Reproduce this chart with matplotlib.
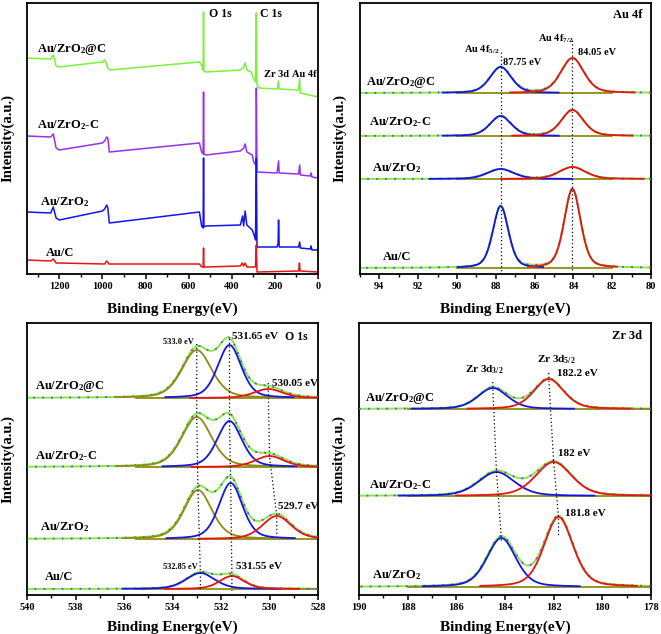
import matplotlib
matplotlib.use('Agg')
import matplotlib.pyplot as plt
import numpy as np

plt.rcParams['font.family'] = 'Liberation Serif'
plt.rcParams['font.weight'] = 'bold'
plt.rcParams['mathtext.fontset'] = 'custom'
plt.rcParams['mathtext.rm'] = 'Liberation Serif:bold'
plt.rcParams['mathtext.it'] = 'Liberation Serif:bold'
plt.rcParams['mathtext.bf'] = 'Liberation Serif:bold'

samples = [r'Au/ZrO$_2$@C', r'Au/ZrO$_2$-C', r'Au/ZrO$_2$', 'Au/C']
colors = {'green': '#7cf03c', 'purple': '#9632e6', 'blue': '#1414e6',
          'red': '#e61414', 'olive': '#8c8c14'}

# ---- survey spectra: (binding energy, intensity)
survey_be = {
    'Au/ZrO2@C': [1350, 1240, 1228, 1215, 1200, 1000, 990, 982, 975, 965, 550, 540, 533, 531, 529, 520,
                  360, 345, 338, 330, 310, 300, 290, 286, 283, 275, 190, 183, 180, 90, 85, 82, 0],
    'Au/ZrO2-C': [1350, 1240, 1228, 1215, 1200, 1000, 990, 980, 975, 968, 550, 540, 533, 531, 529, 520,
                  360, 345, 338, 330, 305, 298, 288, 286, 283, 190, 183, 180, 90, 85, 82, 35, 32, 28, 0],
    'Au/ZrO2': [1350, 1240, 1228, 1215, 1200, 1000, 990, 980, 975, 968, 550, 540, 533, 531, 529, 520,
                360, 350, 345, 338, 330, 305, 298, 290, 286, 283, 190, 185, 183, 180, 90, 85, 82, 35, 32, 28, 0],
    'Au/C': [1350, 1240, 1228, 1215, 1200, 990, 980, 970, 550, 540, 533, 531, 529, 520,
             360, 352, 345, 338, 330, 290, 286, 283, 90, 86, 83, 0],
}
survey_int = {
    'Au/ZrO2@C': [216, 215, 219, 208, 207, 212, 214, 211, 206, 204, 212, 209, 204, 262, 203, 202,
                  204, 207, 211, 204, 202, 196, 192, 261, 189, 186, 185, 193, 185, 184, 196, 181, 177],
    'Au/ZrO2-C': [138, 137, 140, 126, 124, 131, 133, 137, 136, 122, 131, 122, 120, 182, 120, 119,
                  123, 126, 130, 122, 119, 112, 109, 186, 102, 101, 113, 101, 100, 109, 99, 98, 101, 97, 96],
    'Au/ZrO2': [62, 61, 67, 56, 54, 63, 65, 69, 66, 51, 62, 48, 46, 116, 47, 48,
                49, 58, 48, 63, 49, 44, 40, 34, 116, 27, 27, 31, 54, 27, 27, 32, 26, 25, 28, 24, 24],
    'Au/C': [14, 13, 15, 11, 11, 10, 13, 10, 10, 7, 7, 26, 7, 7,
             8, 11, 8, 11, 7, 7, 29, 2, 3, 11, 3, 2],
}
survey_colors = ['green', 'purple', 'blue', 'red']

# ---- Au 4f fits: baseline, then (centre, height, fwhm) of 4f5/2 and 4f7/2
au_base = [181, 138, 95, 6]
au_c52 = [87.75, 87.75, 87.75, 87.75]
au_h52 = [26, 20, 10, 62]
au_w52 = [1.3, 1.3, 1.6, 0.95]
au_c72 = [84.05, 84.05, 84.05, 84.05]
au_h72 = [35, 26, 12, 79]
au_w72 = [1.4, 1.35, 1.6, 1.0]

# ---- O 1s fits: baseline, (centre, height, fwhm) of three components
o_base = [197, 128, 56, 6]
o_c1 = [533.0, 533.0, 532.95, 532.85]
o_h1 = [48, 50, 49, 16]
o_w1 = [1.45, 1.45, 1.35, 1.4]
o_c2 = [531.65, 531.65, 531.6, 531.55]
o_h2 = [53, 46, 56, 13]
o_w2 = [1.15, 1.2, 1.15, 1.2]
o_c3 = [530.05, 530.0, 529.7, None]
o_h3 = [9, 11, 23, 0]
o_w3 = [1.4, 1.4, 1.4, 1.0]

# ---- Zr 3d fits
zr_base = [186, 99, 8]
zr_c32 = [184.5, 184.35, 184.15]
zr_h32 = [21, 24, 49]
zr_w32 = [1.45, 1.75, 1.4]
zr_c52 = [182.2, 182.0, 181.8]
zr_h52 = [30, 34, 70]
zr_w52 = [1.45, 1.75, 1.4]


def peak(x, c, h, w, eta=0.35):
    g = np.exp(-4 * np.log(2) * ((x - c) / w) ** 2)
    l = 1 / (1 + 4 * ((x - c) / w) ** 2)
    return h * (eta * l + (1 - eta) * g)


def style_axis(ax, xlim, major, minor, ylim):
    ax.set_xlim(*xlim)
    ax.set_ylim(*ylim)
    ax.set_xticks(np.arange(min(xlim), max(xlim) + 0.01, major))
    ax.set_xticks(np.arange(min(xlim), max(xlim) + 0.01, minor), minor=True)
    ax.set_yticks([])
    ax.tick_params(axis='x', which='major', direction='out', length=3.5, width=1.1, labelsize=7.5, pad=2)
    ax.tick_params(axis='x', which='minor', direction='out', length=2, width=1.0)
    for s in ax.spines.values():
        s.set_linewidth(1.3)
    ax.set_xlabel('Binding Energy(eV)', fontsize=11, fontweight='bold')
    ax.set_ylabel('Intensity(a.u.)', fontsize=10.5, fontweight='bold')
    for lab in ax.get_xticklabels():
        lab.set_fontweight('bold')


def fit_row(ax, x, base, comps, xr):
    # raw data / envelope across the whole window
    env = np.full_like(x, float(base))
    for c, h, w, col in comps:
        if c is None:
            continue
        env = env + peak(x, c, h, w)
    ax.plot(x, env, color=colors['green'], lw=1.4, zorder=2)
    ax.plot(x, env, color=colors['purple'], lw=1.3, ls=(0, (1, 4)), zorder=3)
    ax.plot(xr, [base, base], color=colors['olive'], lw=1.3, zorder=2)
    for c, h, w, col in comps:
        if c is None:
            continue
        xx = np.linspace(c - 2.3 * w, c + 2.3 * w, 200)
        ax.plot(xx, base + peak(xx, c, h, w), color=colors[col], lw=1.3, zorder=4)


def guide(ax, xs, tops, bottom, over=6):
    gx = [xs[0]] + list(xs) + [xs[-1]]
    gy = [tops[0] + over] + list(tops) + [bottom]
    ax.plot(gx, gy, color='black', lw=0.9, ls=(0, (1, 2)), zorder=5)


def put(ax, fx, fy, s, size=9):
    ax.text(fx, fy, s, transform=ax.transAxes, fontsize=size, fontweight='bold', va='center', ha='left')


fig = plt.figure(figsize=(6.61, 6.34), dpi=100)
ax1 = fig.add_axes([27 / 661, 1 - 274 / 634, 291 / 661, 271 / 634])
ax2 = fig.add_axes([360 / 661, 1 - 274 / 634, 291 / 661, 271 / 634])
ax3 = fig.add_axes([27 / 661, 1 - 595 / 634, 291 / 661, 272 / 634])
ax4 = fig.add_axes([359 / 661, 1 - 595 / 634, 292 / 661, 272 / 634])

# survey
for key, col in zip(survey_be, survey_colors):
    ax1.plot(survey_be[key], survey_int[key], color=colors[col], lw=1.1)
style_axis(ax1, (1350, 0), 200, 100, (0, 271))
ax1.set_xticks(np.arange(0, 1201, 200))
ax1.set_xticks(np.arange(0, 1301, 100), minor=True)
for (fx, fy), s in zip([(0.034, 0.830), (0.034, 0.550), (0.045, 0.266), (0.065, 0.077)], samples):
    put(ax1, fx, fy, s)
put(ax1, 0.625, 0.959, 'O 1s', 8.5)
put(ax1, 0.801, 0.959, 'C 1s', 8.5)
put(ax1, 0.815, 0.738, 'Zr 3d', 7.5)
put(ax1, 0.912, 0.738, 'Au 4f', 7.5)

# Au 4f
x = np.linspace(80, 95, 1200)
for i in range(4):
    fit_row(ax2, x, au_base[i], [(au_c52[i], au_h52[i], au_w52[i], 'blue'),
                                 (au_c72[i], au_h72[i], au_w72[i], 'red')], (90, 82))
ax2.plot([au_c52[0], au_c52[0]], [222, 0], color='black', lw=0.9, ls=(0, (1, 2)))
ax2.plot([au_c72[0], au_c72[0]], [234, 0], color='black', lw=0.9, ls=(0, (1, 2)))
style_axis(ax2, (95, 80), 2, 1, (0, 271))
ax2.set_xticks(np.arange(80, 95, 2))
for (fx, fy), s in zip([(0.021, 0.708), (0.031, 0.561), (0.041, 0.391), (0.079, 0.063)], samples):
    put(ax2, fx, fy, s)
put(ax2, 0.869, 0.956, 'Au 4f', 9)
put(ax2, 0.357, 0.827, r'Au 4f$_{5/2}$', 7.5)
put(ax2, 0.491, 0.779, '87.75 eV', 7.5)
put(ax2, 0.612, 0.867, r'Au 4f$_{7/2}$', 7.5)
put(ax2, 0.749, 0.819, '84.05 eV', 7.5)

# O 1s
x = np.linspace(528, 540, 1200)
for i in range(4):
    fit_row(ax3, x, o_base[i], [(o_c1[i], o_h1[i], o_w1[i], 'olive' if i < 3 else 'blue'),
                                (o_c2[i], o_h2[i], o_w2[i], 'blue' if i < 3 else 'red'),
                                (o_c3[i], o_h3[i], o_w3[i], 'red')], (535.5, 528))
guide(ax3, o_c1, [o_base[i] + o_h1[i] for i in range(4)], 4)
guide(ax3, o_c2, [o_base[i] + o_h2[i] for i in range(4)], 4)
guide(ax3, o_c3[:3], [o_base[i] + o_h3[i] for i in range(3)], 60)
style_axis(ax3, (540, 528), 2, 1, (0, 272))
for (fx, fy), s in zip([(0.027, 0.768), (0.027, 0.511), (0.045, 0.250), (0.062, 0.066)], samples):
    put(ax3, fx, fy, s)
put(ax3, 0.467, 0.930, '533.0 eV', 6)
put(ax3, 0.704, 0.949, '531.65 eV', 8)
put(ax3, 0.887, 0.949, 'O 1s', 8.5)
put(ax3, 0.842, 0.779, '530.05 eV', 8)
put(ax3, 0.863, 0.324, '529.7 eV', 8)
put(ax3, 0.467, 0.103, '532.85 eV', 6)
put(ax3, 0.718, 0.103, '531.55 eV', 8)

# Zr 3d
x = np.linspace(178, 190, 1200)
for i in range(3):
    fit_row(ax4, x, zr_base[i], [(zr_c32[i], zr_h32[i], zr_w32[i], 'blue'),
                                 (zr_c52[i], zr_h52[i], zr_w52[i], 'red')], (188, 178))
guide(ax4, zr_c32, [zr_base[i] + zr_h32[i] for i in range(3)], 52)
guide(ax4, zr_c52, [zr_base[i] + zr_h52[i] for i in range(3)], 58)
style_axis(ax4, (190, 178), 2, 1, (0, 272))
for (fx, fy), s in zip([(0.021, 0.724), (0.034, 0.404), (0.045, 0.074)], samples[:3]):
    put(ax4, fx, fy, s)
put(ax4, 0.866, 0.952, 'Zr 3d', 9)
put(ax4, 0.363, 0.827, r'Zr 3d$_{3/2}$', 8)
put(ax4, 0.610, 0.864, r'Zr 3d$_{5/2}$', 8)
put(ax4, 0.678, 0.816, '182.2 eV', 8)
put(ax4, 0.682, 0.522, '182 eV', 8)
put(ax4, 0.705, 0.298, '181.8 eV', 8)

for ax, lx in [(ax1, -0.043), (ax2, -0.047), (ax3, -0.043), (ax4, -0.045)]:
    ax.yaxis.set_label_coords(lx, 0.5)
for ax, ly in [(ax1, -0.105), (ax2, -0.105), (ax3, -0.092), (ax4, -0.092)]:
    ax.xaxis.set_label_coords(0.5, ly)

plt.savefig('out.png', dpi=100)
